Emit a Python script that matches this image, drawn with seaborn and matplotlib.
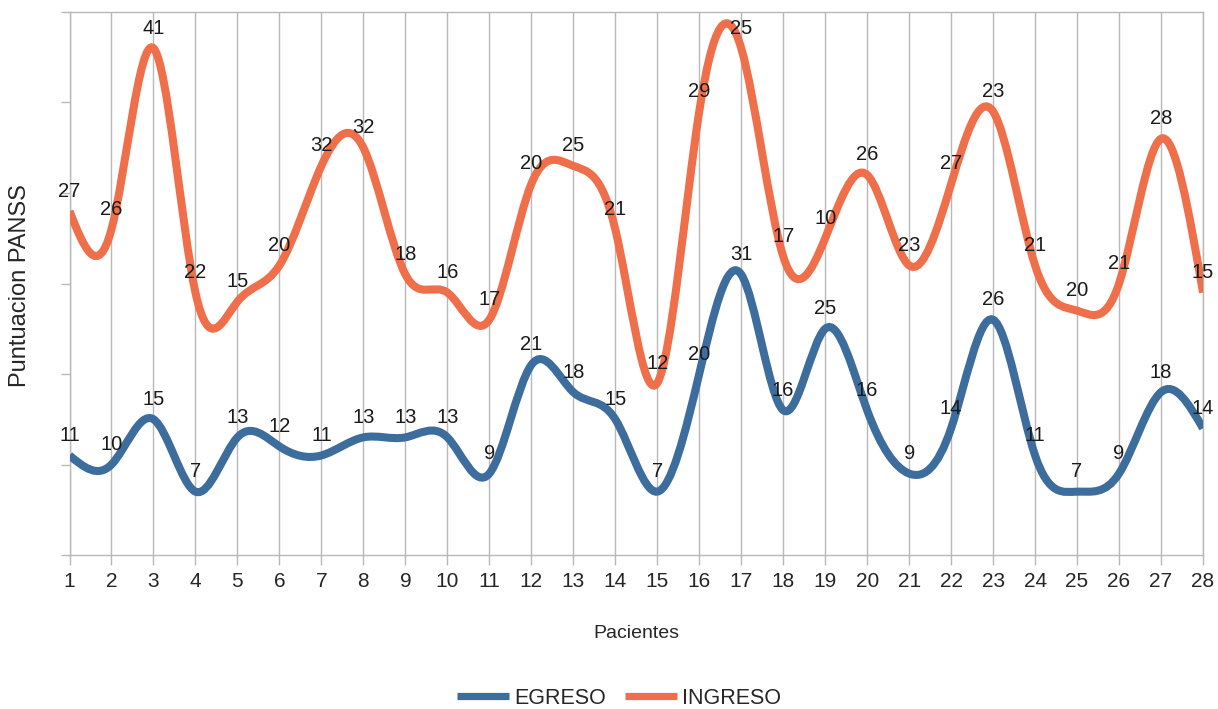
import numpy as np
import matplotlib
matplotlib.use("Agg")
import matplotlib.pyplot as plt
from matplotlib.path import Path
from matplotlib.patches import PathPatch
from matplotlib.lines import Line2D
import seaborn as sns

pacientes = list(range(1, 29))
egreso = [11, 10, 15, 7, 13, 12, 11, 13, 13, 13, 9, 21, 18, 15, 7, 20, 31, 16, 25, 16, 9, 14, 26, 11, 7, 9, 18, 14]
ingreso = [27, 26, 41, 22, 15, 20, 32, 32, 18, 16, 17, 20, 25, 21, 12, 29, 25, 17, 10, 26, 23, 27, 23, 21, 20, 21, 28, 15]
series_names = ["EGRESO", "INGRESO"]
colors = ["#3d6d9c", "#ef6f4a"]

sns.set_theme(style="white")
plt.rcParams['font.family'] = ['Liberation Sans', 'DejaVu Sans']

W, H = 1218, 709
fig = plt.figure(figsize=(W / 100, H / 100), dpi=100)
ax = fig.add_axes([69.5 / W, 1 - 555 / H, (1203 - 69.5) / W, (555 - 12) / H])


def smooth_path(x, y):
    x = np.asarray(x, float)
    y = np.asarray(y, float)
    n = len(y)
    # natural cubic spline tangents (Hermite form)
    A = np.zeros((n, n))
    b = np.zeros(n)
    A[0, 0], A[0, 1] = 2, 1
    b[0] = 3 * (y[1] - y[0])
    A[-1, -2], A[-1, -1] = 1, 2
    b[-1] = 3 * (y[-1] - y[-2])
    for i in range(1, n - 1):
        A[i, i - 1], A[i, i], A[i, i + 1] = 1, 4, 1
        b[i] = 3 * (y[i + 1] - y[i - 1])
    m = np.linalg.solve(A, b)
    verts = [(x[0], y[0])]
    codes = [Path.MOVETO]
    for i in range(n - 1):
        h = x[i + 1] - x[i]
        verts += [(x[i] + h / 3, y[i] + m[i] * h / 3),
                  (x[i + 1] - h / 3, y[i + 1] - m[i + 1] * h / 3),
                  (x[i + 1], y[i + 1])]
        codes += [Path.CURVE4] * 3
    return Path(verts, codes)


stack_top = [e + i for e, i in zip(egreso, ingreso)]

for yy, c in [(egreso, colors[0]), (stack_top, colors[1])]:
    ax.add_patch(PathPatch(smooth_path(pacientes, yy), facecolor="none",
                           edgecolor=c, lw=5.8, capstyle="butt", zorder=3))

for x, e, t, v in zip(pacientes, egreso, stack_top, ingreso):
    ax.annotate(str(e), (x, e), xytext=(0, 20), textcoords="offset pixels",
                ha="center", va="center", fontsize=14.5, color="#1a1a1a", zorder=5)
    ax.annotate(str(v), (x, t), xytext=(0, 20), textcoords="offset pixels",
                ha="center", va="center", fontsize=14.5, color="#1a1a1a", zorder=5)

ax.set_xlim(1, 28)
ax.set_ylim(0, 60)
ax.set_xticks(pacientes)
ax.set_xticklabels([str(p) for p in pacientes])
ax.set_yticks(range(0, 61, 10))
ax.set_yticklabels([])
grid_c = "#b8b8b8"
ax.grid(False)
for x in pacientes:
    ax.axvline(x, color=grid_c, lw=1, zorder=1)
for s in ax.spines.values():
    s.set_color(grid_c)
    s.set_linewidth(1)
ax.tick_params(axis="x", length=7.2, width=1, color=grid_c, pad=5,
               labelsize=15, labelcolor="#262626", bottom=True)
ax.tick_params(axis="y", length=6.5, width=1, color=grid_c, left=True)
ax.set_facecolor("white")

fig.text(636 / W, 1 - 633 / H, "Pacientes", ha="center", va="center",
         fontsize=14, color="#262626")
fig.text(20 / W, 1 - 286 / H, "Puntuacion PANSS", ha="center", va="center",
         rotation=90, fontsize=17, color="#262626")

handles = [Line2D([0], [0], color=c, lw=5.2, solid_capstyle="butt") for c in colors]
fig.legend(handles, series_names, loc="center", bbox_to_anchor=(619 / W, 1 - 698 / H),
           ncol=2, frameon=False, fontsize=15.5, handlelength=2.4,
           handletextpad=0.25, columnspacing=0.9, labelcolor="#262626")

fig.savefig("out.png", dpi=100, facecolor="white")
